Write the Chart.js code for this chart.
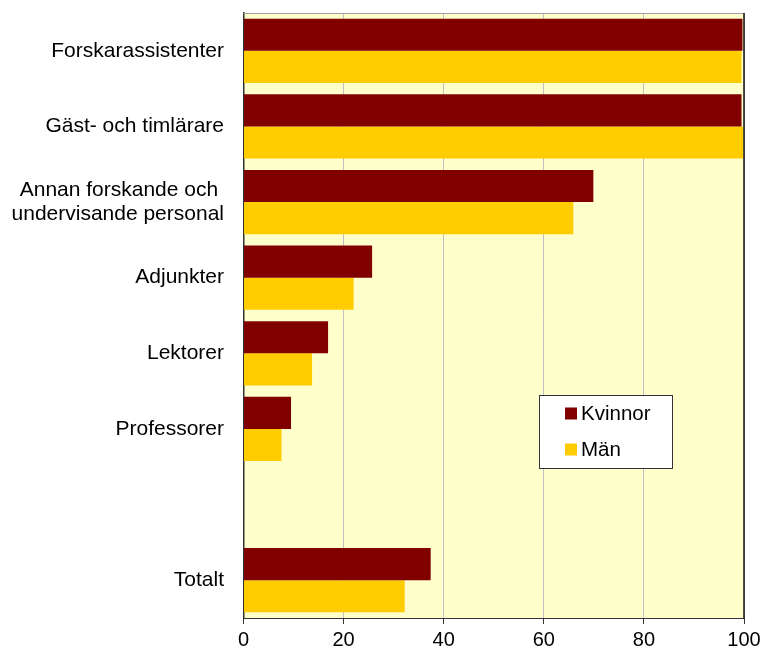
<!DOCTYPE html>
<html>
<head>
<meta charset="utf-8">
<script src="https://cdn.jsdelivr.net/npm/chart.js@4"></script>
<style>
html,body{margin:0;padding:0;background:#fff;}
#wrap{width:763px;height:650px;position:relative;}
</style>
</head>
<body>
<div id="wrap"><canvas id="c" width="763" height="650"></canvas></div>
<script>
const categories = ['Forskarassistenter', 'Gäst- och timlärare', ['Annan forskande och ', 'undervisande personal'], 'Adjunkter', 'Lektorer', 'Professorer', '', 'Totalt'];
const kvinnor = [99.7, 99.5, 69.9, 25.7, 16.9, 9.5, null, 37.4];
const man = [99.5, 99.8, 65.9, 22.0, 13.7, 7.6, null, 32.2];
const xTicks = [0, 20, 40, 60, 80, 100];

const FONT = 'Arial, "Liberation Sans", sans-serif';

const bgPlugin = {
  id: 'bg',
  beforeDraw(chart) {
    const {ctx, chartArea: a} = chart;
    ctx.save();
    ctx.fillStyle = '#FFFFCC';
    ctx.fillRect(a.left, a.top, a.right - a.left, a.bottom - a.top);
    ctx.restore();
  },
  afterDatasetsDraw(chart) {
    const {ctx, chartArea: a} = chart;
    ctx.save();
    ctx.lineWidth = 1;
    ctx.strokeStyle = '#A0A0A0';
    ctx.beginPath();
    ctx.moveTo(a.left, a.top + 0.5);
    ctx.lineTo(a.right, a.top + 0.5);
    ctx.stroke();
    ctx.strokeStyle = '#111';
    ctx.lineWidth = 1.5;
    ctx.beginPath();
    ctx.moveTo(a.right, a.top);
    ctx.lineTo(a.right, a.bottom);
    ctx.stroke();
    ctx.restore();
  }
};

const legendPlugin = {
  id: 'boxLegend',
  afterDraw(chart) {
    const {ctx} = chart;
    const x0 = 539.5, y0 = 395.5, w = 133, h = 73;
    ctx.save();
    ctx.fillStyle = '#fff';
    ctx.fillRect(x0, y0, w, h);
    ctx.strokeStyle = '#333';
    ctx.lineWidth = 1;
    ctx.strokeRect(x0, y0, w, h);
    ctx.font = '20.5px ' + FONT;
    ctx.textBaseline = 'middle';
    chart.data.datasets.forEach((ds, i) => {
      const cy = y0 + 18 + i * 36;
      ctx.fillStyle = ds.backgroundColor;
      ctx.fillRect(565, cy - 6, 12, 12);
      ctx.fillStyle = '#000';
      ctx.fillText(ds.label, 581, cy + 1);
    });
    ctx.restore();
  }
};

new Chart(document.getElementById('c'), {
  type: 'bar',
  data: {
    labels: categories,
    datasets: [
      {label: 'Kvinnor', data: kvinnor, backgroundColor: '#800000', borderWidth: 0},
      {label: 'Män', data: man, backgroundColor: '#FFCC00', borderWidth: 0}
    ]
  },
  options: {
    indexAxis: 'y',
    responsive: false,
    animation: false,
    devicePixelRatio: 1,
    categoryPercentage: 0.85,
    barPercentage: 1.0,
    layout: {padding: {top: 13, left: 0, right: 19, bottom: 0}},
    plugins: {legend: {display: false}, tooltip: {enabled: false}},
    scales: {
      x: {
        min: 0, max: 100,
        afterBuildTicks(scale) { scale.ticks = xTicks.map(v => ({value: v})); },
        afterFit(scale) { scale.height = 32; scale.paddingLeft = 0; scale.paddingRight = 0; },
        grid: {color: '#C0C0C0', tickColor: '#333', tickLength: 6, drawOnChartArea: true},
        border: {color: '#333', width: 1},
        ticks: {color: '#000', font: {family: FONT, size: 20}, padding: 4, maxRotation: 0}
      },
      y: {
        afterFit(scale) { scale.width = 243.5; scale.paddingTop = 0; scale.paddingBottom = 0; },
        grid: {display: false, drawTicks: false},
        border: {color: '#333', width: 1.5},
        ticks: {color: '#000', font: {family: FONT, size: 21, lineHeight: 1.14}, padding: 19.5}
      }
    }
  },
  plugins: [bgPlugin, legendPlugin]
});
</script>
</body>
</html>
